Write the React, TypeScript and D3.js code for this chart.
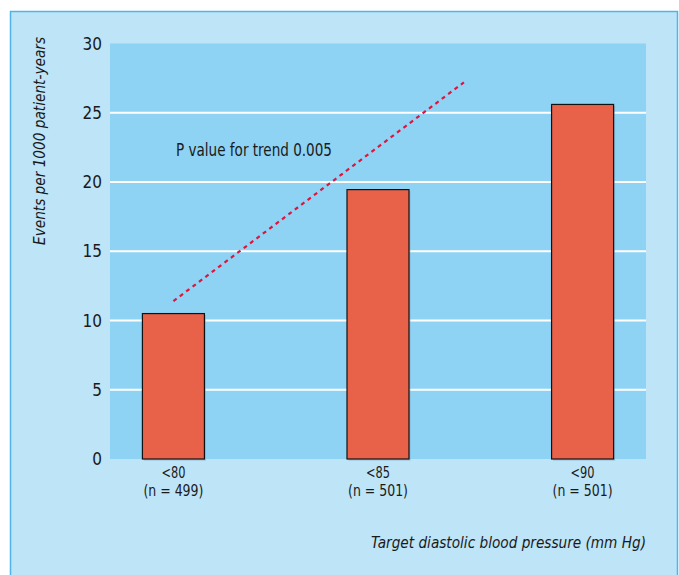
import React from "react";
import * as d3 from "d3";

const categories = ["<80", "<85", "<90"];
const sampleSizes = ["(n = 499)", "(n = 501)", "(n = 501)"];
const values = [10.5, 19.45, 25.6];
const yTicks = [0, 5, 10, 15, 20, 25, 30];
const gridValues = [5, 10, 15, 20, 25];
const trendX = [0, 1.42];
const trendY = [11.4, 27.2];
const trendLabel = "P value for trend 0.005";
const yTitle = "Events per 1000 patient-years";
const xTitle = "Target diastolic blood pressure (mm Hg)";

const W = 679;
const H = 575;
const FONT = "'DejaVu Sans Condensed', 'Liberation Sans', sans-serif";

export default function App() {
  const plot = { left: 110, right: 646, top: 43.5, bottom: 459 };
  const y = d3.scaleLinear().domain([0, 30]).range([plot.bottom, plot.top]);
  const x = d3.scalePoint<string>().domain(categories).range([plot.left, plot.right]).padding(0.31);
  const step = x.step();
  const barW = 62;
  const idx = d3.scaleLinear().domain([0, 1]).range([x(categories[0])!, x(categories[0])! + step]);
  const trend = d3.line<number>().x((d, i) => idx(trendX[i])).y((d) => y(d));

  return (
    <svg width={W} height={H} style={{ position: "absolute", left: 0, top: 0 }} fontFamily={FONT}>
      <rect x={10.5} y={11.5} width={667} height={H + 10} fill="#bde4f7" stroke="#4fb4ec" strokeWidth={1.5} />
      <rect x={plot.left} y={plot.top} width={plot.right - plot.left} height={plot.bottom - plot.top} fill="#8ed2f4" />
      {gridValues.map((v) => (
        <line key={v} x1={plot.left} x2={plot.right} y1={y(v)} y2={y(v)} stroke="#ffffff" strokeWidth={2} />
      ))}
      {yTicks.map((v) => (
        <text key={v} x={102} y={y(v)} dy="0.36em" textAnchor="end" fontSize={17} fill="#1a1a1a">
          {v}
        </text>
      ))}
      {categories.map((c, i) => (
        <g key={c}>
          <rect x={x(c)! - barW / 2 + 1.5} y={y(values[i]) + 1.5} width={barW} height={y(0) - y(values[i])} fill="#7aa9c4" opacity={0.6} />
          <rect x={x(c)! - barW / 2} y={y(values[i])} width={barW} height={y(0) - y(values[i])} fill="#e8624a" stroke="#111" strokeWidth={1.2} />
          <text x={x(c)!} y={478} textAnchor="middle" fontSize={15.5} fill="#1a1a1a" textLength={24} lengthAdjust="spacingAndGlyphs">{c}</text>
          <text x={x(c)!} y={496} textAnchor="middle" fontSize={15.5} fill="#1a1a1a" textLength={60} lengthAdjust="spacingAndGlyphs">{sampleSizes[i]}</text>
        </g>
      ))}
      <path d={trend(trendY) || ""} fill="none" stroke="#e0143c" strokeWidth={2.2} strokeDasharray="4,4" />
      <text x={176} y={156} fontSize={17} fill="#1a1a1a" textLength={156} lengthAdjust="spacingAndGlyphs">{trendLabel}</text>
      <text transform={`translate(45,141) rotate(-90)`} textAnchor="middle" fontSize={16} fontStyle="italic" fill="#1a1a1a" textLength={208} lengthAdjust="spacingAndGlyphs">
        {yTitle}
      </text>
      <text x={646} y={548} textAnchor="end" fontSize={16} fontStyle="italic" fill="#1a1a1a" textLength={275} lengthAdjust="spacingAndGlyphs">{xTitle}</text>
    </svg>
  );
}
